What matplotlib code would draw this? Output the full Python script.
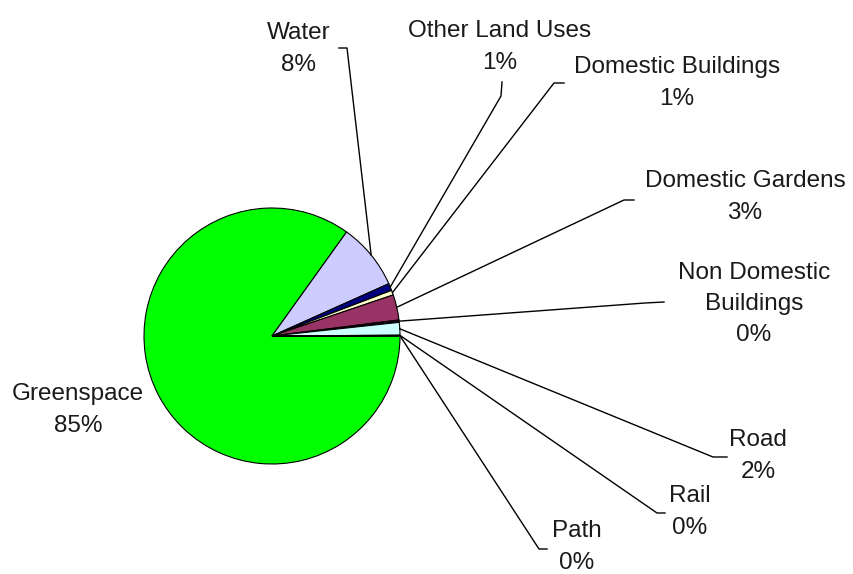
import numpy as np
import matplotlib.pyplot as plt

# land use shares, percent
categories = ["Greenspace", "Water", "Other Land Uses", "Domestic Buildings",
              "Domestic Gardens", "Non Domestic Buildings", "Road", "Rail", "Path"]
shares = [84.9, 8.4, 0.9, 0.6, 3.2, 0.3, 1.6, 0.05, 0.05]
slice_colors = ["#00ff00", "#ccccff", "#000080", "#ffffcc",
                "#993366", "#1a001a", "#ccffff", "#ff8080", "#0066cc"]

label_text = {
    "Non Domestic Buildings": "Non Domestic\nBuildings",
}

W, H = 854, 574
CX, CY, R = 272, 336, 128


def up(y):
    # screen-style y (from top) to axes y (from bottom)
    return H - y


# label block centres and leader-line elbows, in pixels from top-left
label_pos = {
    "Greenspace": (78, 410),
    "Water": (299, 49),
    "Other Land Uses": (500, 47),
    "Domestic Buildings": (677, 83),
    "Domestic Gardens": (745, 197),
    "Non Domestic Buildings": (754, 304),
    "Road": (758, 456),
    "Rail": (690, 512),
    "Path": (577, 547),
}
leader_elbow = {
    "Water": [(339, 48), (347, 48)],
    "Other Land Uses": [(502, 82), (501, 96)],
    "Domestic Buildings": [(564, 83), (554, 83)],
    "Domestic Gardens": [(634, 200), (624, 200)],
    "Non Domestic Buildings": [(664, 302), (645, 303)],
    "Road": [(727, 457), (713, 457)],
    "Rail": [(665, 513), (657, 513)],
    "Path": [(547, 549), (539, 549)],
}

fig = plt.figure(figsize=(W / 100, H / 100), dpi=100)
ax = fig.add_axes([0, 0, 1, 1])

wedges, _ = ax.pie(shares, colors=slice_colors, startangle=0, counterclock=False,
                   center=(CX, up(CY)), radius=R,
                   wedgeprops=dict(edgecolor="black", linewidth=0.8))
ax.set_xlim(0, W)
ax.set_ylim(0, H)
ax.set_aspect("equal")
ax.axis("off")

for name, val, w in zip(categories, shares, wedges):
    txt = label_text.get(name, name) + "\n" + f"{val:.0f}%"
    x, y = label_pos[name]
    ax.text(x, up(y), txt, ha="center", va="center", multialignment="center",
            fontsize=17.5, family="Liberation Sans", color="#1a1a1a",
            linespacing=1.55)
    if name in leader_elbow:
        mid = np.deg2rad((w.theta1 + w.theta2) / 2)
        ex = CX + R * np.cos(mid)
        ey = up(CY) + R * np.sin(mid)
        pts = leader_elbow[name]
        xs = [p[0] for p in pts] + [ex]
        ys = [up(p[1]) for p in pts] + [ey]
        ax.plot(xs, ys, color="black", linewidth=1.0)

fig.savefig("out.png", dpi=100, facecolor="white")
